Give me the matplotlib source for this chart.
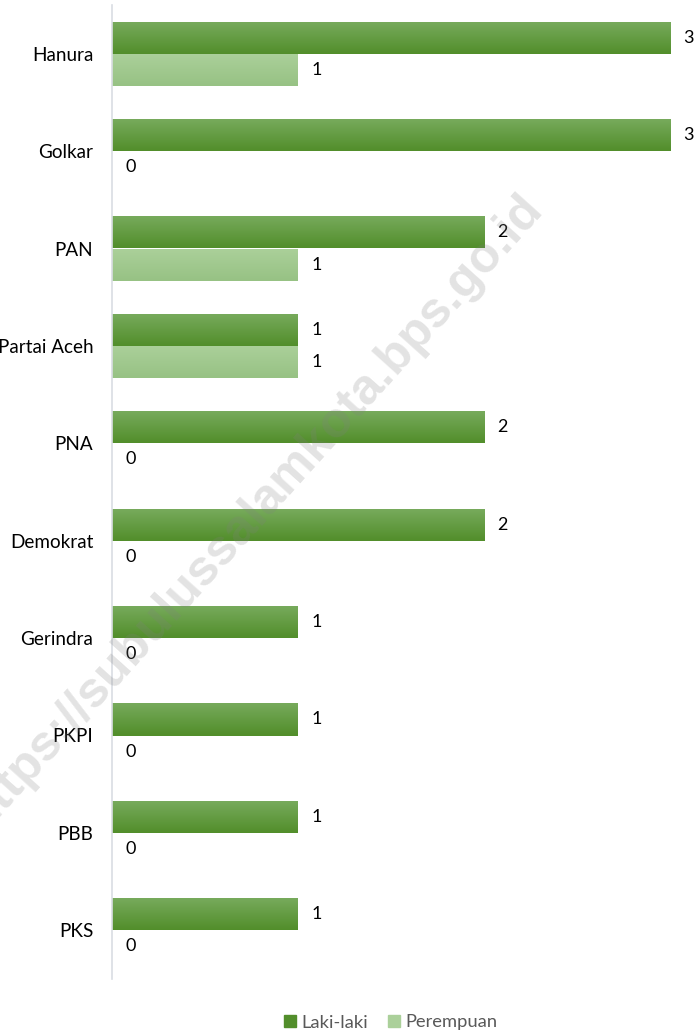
import numpy as np
import matplotlib
matplotlib.use("Agg")
import matplotlib.pyplot as plt
from matplotlib.colors import LinearSegmentedColormap

categories = ["Hanura", "Golkar", "PAN", "Partai Aceh", "PNA", "Demokrat",
              "Gerindra", "PKPI", "PBB", "PKS"]
laki = [3, 3, 2, 1, 2, 2, 1, 1, 1, 1]
perempuan = [1, 0, 1, 1, 0, 0, 0, 0, 0, 0]
series_names = ["Laki-laki", "Perempuan"]

plt.rcParams['font.family'] = ['Lato', 'DejaVu Sans']

W, H = 694, 1033
fig = plt.figure(figsize=(W / 100, H / 100), dpi=100)
ax = fig.add_axes([112 / W, (1033 - 979) / H, (694 - 112) / W, 974 / H])

y = np.arange(len(categories))
bh = 0.33
lk_top, lk_bot = "#78AB5D", "#528E2B"
pr_top, pr_bot = "#ABD09A", "#97C284"

def grad_bars(bars, top, bot):
    cmap = LinearSegmentedColormap.from_list("g", [top, bot])
    grad = np.linspace(0, 1, 64).reshape(-1, 1)
    for b in bars:
        x0, y0 = b.get_x(), b.get_y()
        w, h = b.get_width(), b.get_height()
        if w <= 0:
            continue
        im = ax.imshow(grad, cmap=cmap, aspect='auto', origin='upper',
                       extent=[x0, x0 + w, y0 + h, y0], zorder=2,
                       interpolation='bilinear')
        im.set_clip_path(b)

b1 = ax.barh(y - bh / 2, laki, height=bh, color=lk_bot, label=series_names[0], zorder=1)
b2 = ax.barh(y + bh / 2, perempuan, height=bh, color=pr_bot, label=series_names[1], zorder=1)
grad_bars(b1, lk_top, lk_bot)
grad_bars(b2, pr_top, pr_bot)

for bars, vals in ((b1, laki), (b2, perempuan)):
    for b, v in zip(bars, vals):
        ax.annotate(str(v), (b.get_width(), b.get_y() + b.get_height() / 2),
                    xytext=(9.5, 0), textcoords='offset points',
                    ha='left', va='center', fontsize=13, color='#000000',
                    annotation_clip=False, zorder=5)

ax.set_xlim(0, 582 / 186)
ax.set_ylim(len(categories) - 0.5, -0.5)
ax.set_yticks(y)
ax.set_yticklabels(categories, fontsize=13.6, color='#000000')
ax.tick_params(axis='y', length=0, pad=13.5)
ax.set_xticks([])
for s in ['top', 'right', 'bottom']:
    ax.spines[s].set_visible(False)
ax.spines['left'].set_color('#D9DDE3')
ax.spines['left'].set_linewidth(1.2)

handles = [plt.Rectangle((0, 0), 1, 1, color=lk_bot), plt.Rectangle((0, 0), 1, 1, color=pr_top)]
leg = fig.legend(handles, series_names, loc='center', bbox_to_anchor=(391 / W, 1 - 1022.5 / H),
                 ncol=2, frameon=False, fontsize=13.2, handlelength=0.65, handleheight=0.65,
                 handletextpad=0.3, columnspacing=1.1)
for t in leg.get_texts():
    t.set_color('#595959')

fig.text(254 / W, 1 - 512 / H, "https://subulussalamkota.bps.go.id", rotation=48,
         ha='center', va='center', fontsize=36, fontweight='bold',
         family='Liberation Sans', color='#808080', alpha=0.22, zorder=10)

fig.savefig("out.png", dpi=100)
